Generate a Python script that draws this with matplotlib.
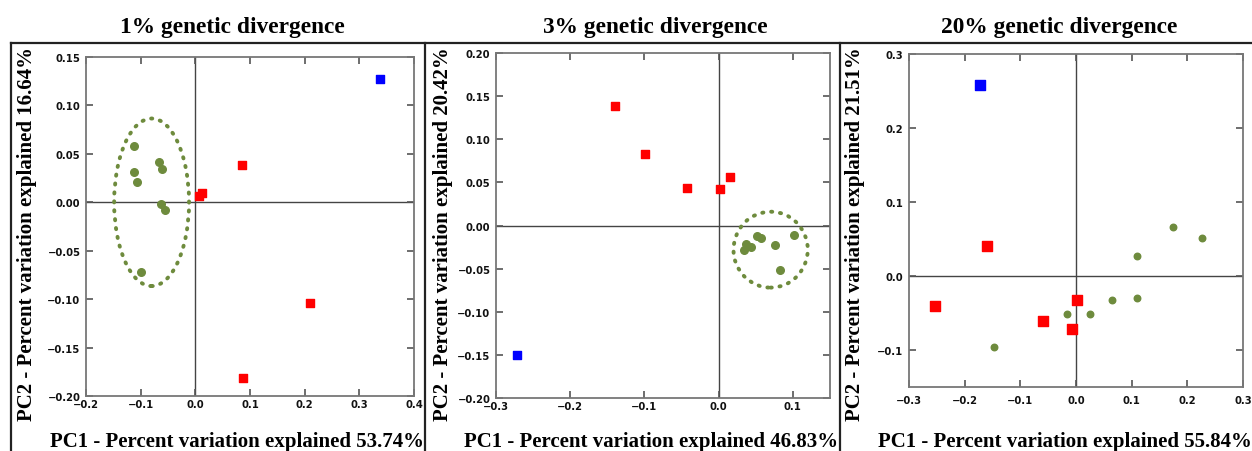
import matplotlib
matplotlib.use("Agg")
from matplotlib import pyplot as plt
from matplotlib.patches import Ellipse
from matplotlib.lines import Line2D
from matplotlib.ticker import FuncFormatter
import numpy as np

W, H = 1252, 452

# PCA scores, 1% divergence
d1_green_x = [-0.113, -0.066, -0.061, -0.112, -0.107, -0.063, -0.056, -0.100]
d1_green_y = [0.058, 0.042, 0.034, 0.031, 0.021, -0.002, -0.008, -0.072]
d1_red_x = [0.007, 0.013, 0.085, 0.209, 0.087]
d1_red_y = [0.007, 0.010, 0.039, -0.104, -0.181]
d1_blue_x = [0.338]
d1_blue_y = [0.127]

# PCA scores, 3% divergence
d3_green_x = [0.034, 0.037, 0.043, 0.052, 0.057, 0.076, 0.102, 0.083]
d3_green_y = [-0.028, -0.022, -0.025, -0.012, -0.014, -0.023, -0.011, -0.052]
d3_red_x = [-0.139, -0.099, -0.043, 0.002, 0.015]
d3_red_y = [0.138, 0.083, 0.043, 0.042, 0.056]
d3_blue_x = [-0.272]
d3_blue_y = [-0.150]

# PCA scores, 20% divergence
d20_green_x = [0.175, 0.227, 0.109, 0.110, 0.064, 0.026, -0.017, -0.148]
d20_green_y = [0.066, 0.052, 0.027, -0.030, -0.032, -0.051, -0.052, -0.096]
d20_red_x = [-0.160, -0.253, -0.060, -0.007, 0.001]
d20_red_y = [0.040, -0.041, -0.061, -0.072, -0.032]
d20_blue_x = [-0.172]
d20_blue_y = [0.258]

titles = ["1% genetic divergence", "3% genetic divergence", "20% genetic divergence"]
pc1_pct = ["53.74", "46.83", "55.84"]
pc2_pct = ["16.64", "20.42", "21.51"]

GREEN = "#6e8b3d"
RED = "#ff0000"
BLUE = "#0000ff"
SERIF = "Liberation Serif"


def px_box(left, top, right, bottom):
    return [left / W, 1 - bottom / H, (right - left) / W, (bottom - top) / H]


def fmt(decimals):
    def f(v, pos):
        if abs(v) < 1e-9:
            v = 0.0
        return ("%.*f" % (decimals, v)).replace("-", "\u2212")
    return FuncFormatter(f)


def style_axes(ax, xlim, ylim, xticks, yticks, xdec, ydec, xpad):
    ax.set_xlim(*xlim)
    ax.set_ylim(*ylim)
    ax.set_xticks(xticks)
    ax.set_yticks(yticks)
    ax.xaxis.set_major_formatter(fmt(xdec))
    ax.yaxis.set_major_formatter(fmt(ydec))
    ax.axhline(0, color="#444444", lw=1.0, zorder=1)
    ax.axvline(0, color="#444444", lw=1.0, zorder=1)
    for s in ax.spines.values():
        s.set_color("#777777")
        s.set_linewidth(1.3)
    ax.tick_params(direction="in", length=5, width=1.2, color="#555555",
                   top=True, right=True, labelsize=7.2, labelcolor="#111111")
    ax.tick_params(axis="x", pad=xpad)
    ax.tick_params(axis="y", pad=4)
    for lab in ax.get_xticklabels() + ax.get_yticklabels():
        lab.set_fontweight("bold")


fig = plt.figure(figsize=(W / 100, H / 100), dpi=100)

# panel 1
ax1 = fig.add_axes(px_box(86, 58, 414, 397))
style_axes(ax1, (-0.2, 0.4), (-0.20, 0.15), np.arange(-0.2, 0.41, 0.1),
           np.arange(-0.20, 0.151, 0.05), 1, 2, 2.5)
ax1.scatter(d1_green_x, d1_green_y, s=30, marker="o", color=GREEN, zorder=3)
ax1.scatter(d1_red_x, d1_red_y, s=28, marker="s", color=RED, zorder=3)
ax1.scatter(d1_blue_x, d1_blue_y, s=40, marker="s", color=BLUE, zorder=3)
ax1.add_patch(Ellipse((-0.080, 0.0), 0.137, 0.173, fill=False, ec=GREEN,
                      lw=2.8, ls=(0, (0.3, 2.0)), capstyle="round", zorder=2))

# panel 2
ax2 = fig.add_axes(px_box(496, 54, 830, 399))
style_axes(ax2, (-0.3, 0.15), (-0.20, 0.20), np.arange(-0.3, 0.11, 0.1),
           np.arange(-0.20, 0.201, 0.05), 1, 2, 2.5)
ax2.scatter(d3_green_x, d3_green_y, s=30, marker="o", color=GREEN, zorder=3)
ax2.scatter(d3_red_x, d3_red_y, s=28, marker="s", color=RED, zorder=3)
ax2.scatter(d3_blue_x, d3_blue_y, s=40, marker="s", color=BLUE, zorder=3)
ax2.add_patch(Ellipse((0.070, -0.028), 0.100, 0.088, fill=False, ec=GREEN,
                      lw=2.8, ls=(0, (0.3, 2.0)), capstyle="round", zorder=2))

# panel 3
ax3 = fig.add_axes(px_box(909, 55, 1243, 388))
style_axes(ax3, (-0.3, 0.3), (-0.15, 0.3), np.arange(-0.3, 0.31, 0.1),
           np.arange(-0.1, 0.31, 0.1), 1, 1, 6)
ax3.scatter(d20_green_x, d20_green_y, s=22, marker="o", color=GREEN, zorder=3)
ax3.scatter(d20_red_x, d20_red_y, s=45, marker="s", color=RED, zorder=3)
ax3.scatter(d20_blue_x, d20_blue_y, s=42, marker="s", color=BLUE, zorder=3)

# titles and axis labels
title_x = [232, 655, 1059]
xlab_x = [237, 651, 1065]
ylab_x = [27, 443, 855]
for i in range(3):
    fig.text(title_x[i] / W, 1 - 28 / H, titles[i], family=SERIF,
             weight="bold", fontsize=16.8, ha="center", va="center")
    fig.text(xlab_x[i] / W, 1 - 442 / H,
             "PC1 - Percent variation explained " + pc1_pct[i] + "%",
             family=SERIF, weight="bold", fontsize=15, ha="center", va="center")
    fig.text(ylab_x[i] / W, 1 - 234 / H,
             "PC2 - Percent variation explained " + pc2_pct[i] + "%",
             family=SERIF, weight="bold", fontsize=15, ha="center",
             va="center", rotation=90)

# panel frames
frame = dict(color="#222222", lw=1.6, transform=fig.transFigure)
fig.add_artist(Line2D([11 / W, 1], [1 - 44 / H] * 2, **frame))
for xf in [11, 425, 840]:
    fig.add_artist(Line2D([xf / W] * 2, [1 - 44 / H, 0], **frame))

fig.savefig("out.png", dpi=100, facecolor="white")
